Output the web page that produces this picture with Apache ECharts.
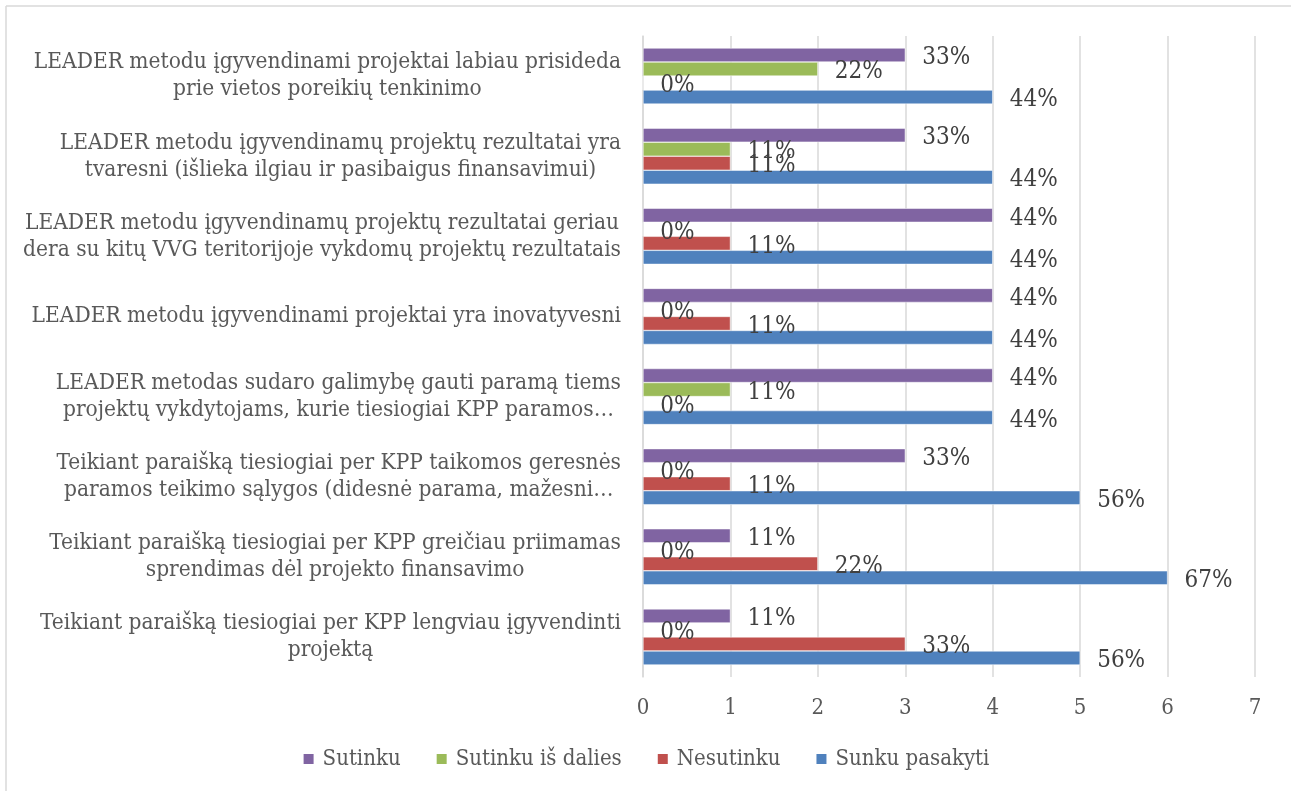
<!DOCTYPE html>
<html>
<head>
<meta charset="utf-8">
<script src="https://cdn.jsdelivr.net/npm/echarts@6/dist/echarts.min.js"></script>
<style>
  html, body { margin: 0; padding: 0; background: #fff; }
  #chart { width: 1291px; height: 791px; }
</style>
</head>
<body>
<div id="chart"></div>
<script>
// categories, bottom to top (category axis starts at the bottom)
const categories = [
  "Teikiant paraišką tiesiogiai per KPP lengviau įgyvendinti\nprojektą",
  "Teikiant paraišką tiesiogiai per KPP greičiau priimamas\nsprendimas dėl projekto finansavimo",
  "Teikiant paraišką tiesiogiai per KPP taikomos geresnės\nparamos teikimo sąlygos (didesnė parama, mažesni…",
  "LEADER metodas sudaro galimybę gauti paramą tiems\nprojektų vykdytojams, kurie tiesiogiai KPP paramos…",
  "LEADER metodu įgyvendinami projektai yra inovatyvesni",
  "LEADER metodu įgyvendinamų projektų rezultatai geriau\ndera su kitų VVG teritorijoje vykdomų projektų rezultatais",
  "LEADER metodu įgyvendinamų projektų rezultatai yra\ntvaresni (išlieka ilgiau ir pasibaigus finansavimui)",
  "LEADER metodu įgyvendinami projektai labiau prisideda\nprie vietos poreikių tenkinimo"
];

// answer counts (9 respondents) and shown percentages
const sutinku       = [1, 1, 3, 4, 4, 4, 3, 3];
const sutinkuPct    = [11, 11, 33, 44, 44, 44, 33, 33];
const isDalies      = [0, 0, 0, 1, 0, 0, 1, 2];
const isDaliesPct   = [0, 0, 0, 11, 0, 0, 11, 22];
const nesutinku     = [3, 2, 1, 0, 1, 1, 1, 0];
const nesutinkuPct  = [33, 22, 11, 0, 11, 11, 11, 0];
const sunkuPasakyti = [5, 6, 5, 4, 4, 4, 4, 4];
const sunkuPct      = [56, 67, 56, 44, 44, 44, 44, 44];

const xTicks = [0, 1, 2, 3, 4, 5, 6, 7];

const FONT = "'DejaVu Serif Condensed', 'DejaVu Serif', serif";

function mkSeries(name, vals, pcts, color) {
  return {
    name: name,
    type: "bar",
    barGap: "0%",
    barCategoryGap: "30%",
    data: vals,
    itemStyle: { color: color, borderColor: "#fff", borderWidth: 0.5 },
    label: {
      show: true,
      position: "right",
      distance: 17,
      offset: [0, 3],
      color: "#404040",
      fontFamily: FONT,
      fontSize: 24,
      formatter: p => pcts[p.dataIndex] + "%"
    }
  };
}

let myChart = echarts.init(document.getElementById("chart"));

let option = {
  backgroundColor: "#fff",
  animation: false,
  grid: { left: 643, right: 36, top: 36, bottom: 114, containLabel: false },
  xAxis: {
    type: "value",
    min: 0,
    max: xTicks[xTicks.length - 1],
    interval: 1,
    axisLine: { show: false },
    axisTick: { show: false },
    splitLine: { lineStyle: { color: "#D9D9D9", width: 1.5 } },
    axisLabel: { color: "#595959", fontFamily: FONT, fontSize: 22, margin: 20 }
  },
  yAxis: {
    type: "category",
    data: categories,
    axisTick: { show: false },
    axisLine: { show: true, lineStyle: { color: "#D9D9D9", width: 1.5 } },
    axisLabel: {
      color: "#595959",
      fontFamily: FONT,
      fontSize: 22.5,
      lineHeight: 27,
      margin: 22,
      align: "right",
      formatter: v => "{c|" + v + "}",
      rich: {
        c: { align: "center", color: "#595959", fontFamily: FONT, fontSize: 22.5, lineHeight: 27 }
      }
    }
  },
  legend: {
    bottom: 16,
    left: "center",
    itemWidth: 12,
    itemHeight: 12,
    itemGap: 34,
    icon: "rect",
    data: ["Sutinku", "Sutinku iš dalies", "Nesutinku", "Sunku pasakyti"],
    textStyle: { color: "#595959", fontFamily: FONT, fontSize: 22, padding: [0, 0, 0, 3] }
  },
  graphic: [
    { type: "line", shape: { x1: 6, y1: 6, x2: 1291, y2: 6 }, style: { stroke: "#D9D9D9", lineWidth: 1.5 } },
    { type: "line", shape: { x1: 6, y1: 6, x2: 6, y2: 791 }, style: { stroke: "#D9D9D9", lineWidth: 1.5 } }
  ],
  series: [
    mkSeries("Sutinku", sutinku, sutinkuPct, "#8064A2"),
    mkSeries("Sutinku iš dalies", isDalies, isDaliesPct, "#9BBB59"),
    mkSeries("Nesutinku", nesutinku, nesutinkuPct, "#C0504D"),
    mkSeries("Sunku pasakyti", sunkuPasakyti, sunkuPct, "#4F81BD")
  ]
};

myChart.setOption(option);
</script>
</body>
</html>
